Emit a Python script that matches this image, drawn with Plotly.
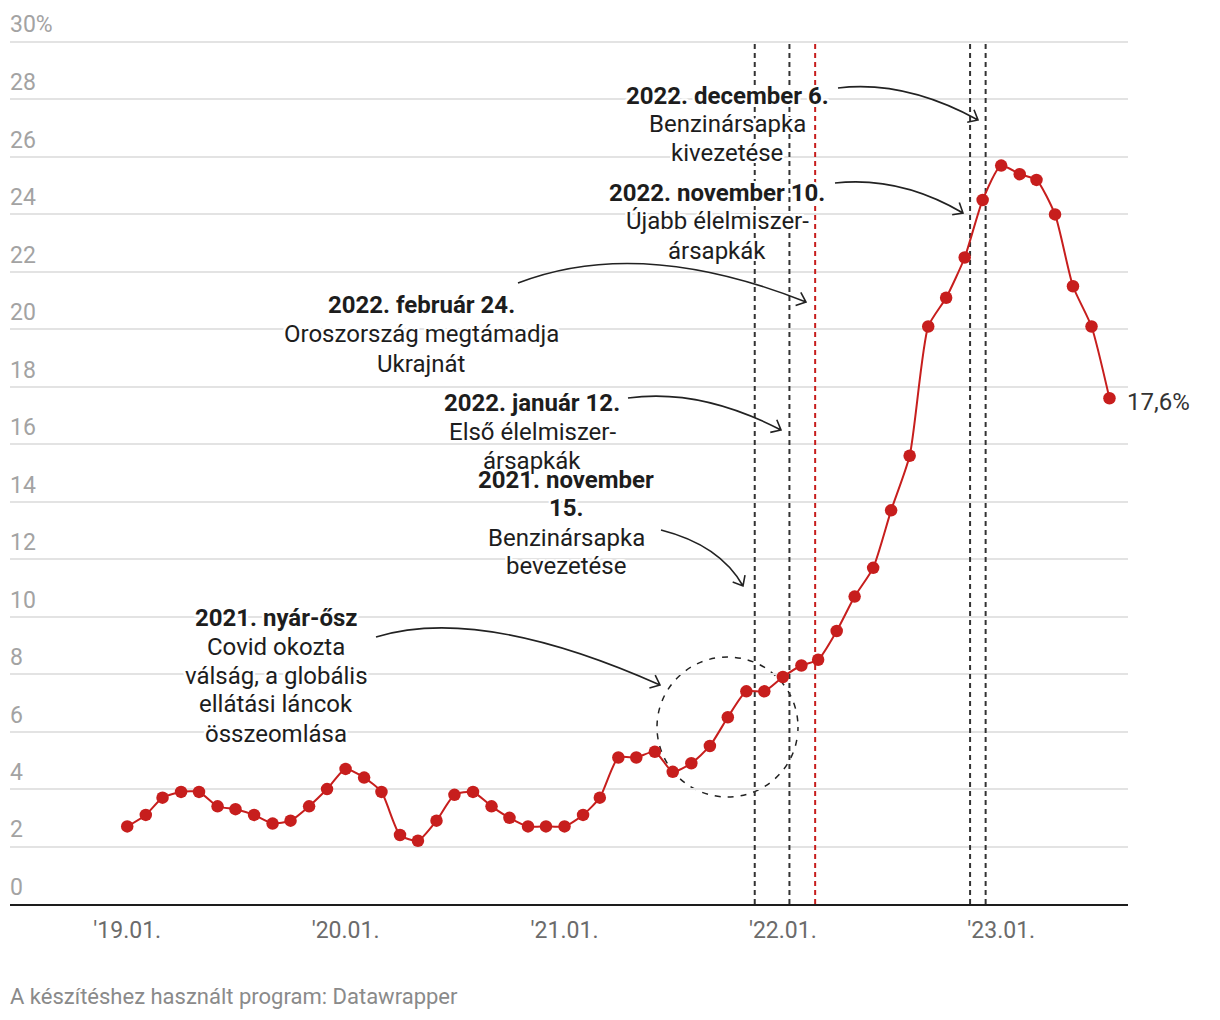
import math
import pandas as pd
import plotly.graph_objects as go

# ---------------- data ----------------
months = pd.date_range("2019-01-01", "2023-07-01", freq="MS").strftime("%Y-%m-%d").tolist()
inflation = [
    2.7, 3.1, 3.7, 3.9, 3.9, 3.4, 3.3, 3.1, 2.8, 2.9, 3.4, 4.0,   # 2019
    4.7, 4.4, 3.9, 2.4, 2.2, 2.9, 3.8, 3.9, 3.4, 3.0, 2.7, 2.7,   # 2020
    2.7, 3.1, 3.7, 5.1, 5.1, 5.3, 4.6, 4.9, 5.5, 6.5, 7.4, 7.4,   # 2021
    7.9, 8.3, 8.5, 9.5, 10.7, 11.7, 13.7, 15.6, 20.1, 21.1, 22.5, 24.5,  # 2022
    25.7, 25.4, 25.2, 24.0, 21.5, 20.1, 17.6,                      # 2023
]
last_label = "17,6%"

event_dates = ["2021-11-15", "2022-01-12", "2022-02-24", "2022-11-10", "2022-12-06"]
event_colors = ["#333333", "#333333", "#c71e1d", "#333333", "#333333"]

x_tickvals = ["2019-01-01", "2020-01-01", "2021-01-01", "2022-01-01", "2023-01-01"]
x_ticktext = ["'19.01.", "'20.01.", "'21.01.", "'22.01.", "'23.01."]
y_tickvals = list(range(0, 31, 2))
y_ticktext = [str(v) for v in y_tickvals[:-1]] + [""]
y_top_label = "30%"

# annotation blocks: (bold lines, normal lines)
event_blocks = [
    (["2022. december 6."], ["Benzinársapka", "kivezetése"]),
    (["2022. november 10."], ["Újabb élelmiszer-", "ársapkák"]),
    (["2022. február 24."], ["Oroszország megtámadja", "Ukrajnát"]),
    (["2022. január 12."], ["Első élelmiszer-", "ársapkák"]),
    (["2021. november", "15."], ["Benzinársapka", "bevezetése"]),
    (["2021. nyár-ősz"], ["Covid okozta", "válság, a globális", "ellátási láncok", "összeomlása"]),
]

footer = "A készítéshez használt program: Datawrapper"

# ---------------- layout geometry (page pixels) ----------------
OFF = 8                      # default body margin of the html page
W, H = 1220 - 2 * OFF, 1020 - 2 * OFF
PL, PR, PT, PB = 10, 1128, 12, 904          # plot area in page pixels
Y0_PX, Y30_PX = 904, 42
Y_TOP = 30 * (PB - PT) / (Y0_PX - Y30_PX)   # value at top of plot area


def fx(px):
    return (px - PL) / (PR - PL)


def fy(py):
    return (PB - py) / (PB - PT)


RED = "#c71e1d"
INK = "#1d1d1d"
FONT = "Roboto"
HALO = ", ".join(f"{dx}px {dy}px 0 #fff" for dx in (-2, -1, 0, 1, 2) for dy in (-2, -1, 0, 1, 2) if dx or dy)

fig = go.Figure()
fig.add_trace(go.Scatter(
    x=months, y=inflation, mode="lines+markers",
    line=dict(color=RED, width=2, shape="spline", smoothing=0.6),
    marker=dict(color=RED, size=12.5),
    hoverinfo="x+y", showlegend=False,
))

shapes = []
for d, c in zip(event_dates, event_colors):
    shapes.append(dict(type="line", xref="x", yref="y", x0=d, x1=d, y0=0, y1=30,
                       line=dict(color=c, width=2, dash="5px,4px"), layer="between"))

# dashed circle around the 2021 summer-autumn period
shapes.append(dict(type="circle", xref="paper", yref="paper", xsizemode="pixel", ysizemode="pixel",
                   xanchor=0, yanchor=0,
                   x0=657 - PL, x1=798 - PL, y0=PB - 797, y1=PB - 657,
                   line=dict(color="#222", width=1.5, dash="6px,7px"), layer="between"))


def arrow(S, C, E, head=11, ang=40):
    s = (S[0] - PL, PB - S[1])
    c = (C[0] - PL, PB - C[1])
    e = (E[0] - PL, PB - E[1])
    dx, dy = e[0] - c[0], e[1] - c[1]
    n = math.hypot(dx, dy)
    bx, by = -dx / n, -dy / n
    arms = []
    for a in (ang, -ang):
        r = math.radians(a)
        arms.append((e[0] + head * (bx * math.cos(r) - by * math.sin(r)),
                     e[1] + head * (bx * math.sin(r) + by * math.cos(r))))
    p = (f"M {s[0]:.1f},{s[1]:.1f} Q {c[0]:.1f},{c[1]:.1f} {e[0]:.1f},{e[1]:.1f} "
         f"M {arms[0][0]:.1f},{arms[0][1]:.1f} L {e[0]:.1f},{e[1]:.1f} L {arms[1][0]:.1f},{arms[1][1]:.1f}")
    return dict(type="path", xref="paper", yref="paper", xsizemode="pixel", ysizemode="pixel",
                xanchor=0, yanchor=0, path=p, line=dict(color="#222", width=1.6), layer="above")


arrows_px = [
    ((838, 88), (905, 80), (978, 120)),
    ((835, 183), (900, 176), (963, 213)),
    ((518, 283), (640, 236), (806, 302)),
    ((628, 398), (700, 388), (781, 430)),
    ((661, 530), (720, 545), (743, 586)),
    ((376, 637), (480, 605), (660, 685)),
]
for S, C, E in arrows_px:
    shapes.append(arrow(S, C, E))

annotations = []
block_pos = [
    (727, [96, 124, 153]),
    (717, [193, 221, 251]),
    (421, [305, 334, 364]),
    (532, [403, 432, 461]),
    (566, [480, 508, 538, 566]),
    (276, [618, 647, 676, 704, 734]),
]
for (bold_lines, lines), (cx, ys) in zip(event_blocks, block_pos):
    all_lines = [f"<b>{t}</b>" for t in bold_lines] + lines
    for txt, ly in zip(all_lines, ys):
        annotations.append(dict(
            xref="paper", yref="paper", x=fx(cx), y=fy(ly), xanchor="center", yanchor="middle",
            text=txt, showarrow=False, align="center",
            font=dict(family=FONT, size=24, color=INK, shadow=HALO),
        ))

# top y-axis label with percent sign
annotations.append(dict(
    xref="paper", yref="y", x=0, y=30, xanchor="left", yanchor="middle",
    yshift=18, xshift=-2, text=y_top_label, showarrow=False,
    font=dict(family=FONT, size=23, color="#a3a3a3"),
))

annotations.append(dict(
    xref="x", yref="y", x=months[-1], y=inflation[-1], xanchor="left", yanchor="middle",
    xshift=16, yshift=-4, text=last_label, showarrow=False,
    font=dict(family=FONT, size=24, color="#333"),
))

annotations.append(dict(
    xref="paper", yref="paper", x=fx(10), y=fy(997), xanchor="left", yanchor="middle",
    xshift=-2, text=footer, showarrow=False, font=dict(family=FONT, size=22, color="#8a8a8a"),
))

fig.update_layout(
    width=W, height=H,
    margin=dict(l=PL - OFF, r=W - (PR - OFF), t=PT - OFF, b=H - (PB - OFF), pad=0),
    paper_bgcolor="white", plot_bgcolor="white",
    font=dict(family=FONT),
    shapes=shapes, annotations=annotations,
    xaxis=dict(
        type="date", range=["2018-06-19", "2023-08-01"],
        tickvals=x_tickvals, ticktext=x_ticktext,
        tickfont=dict(family=FONT, size=23, color="#6b6b6b"),
        showgrid=False, zeroline=False,
        showline=True, linecolor="#1d1d1d", linewidth=2,
        ticks="", ticklabelstandoff=4, automargin=False,
    ),
    yaxis=dict(
        range=[0, Y_TOP], tickvals=y_tickvals, ticktext=y_ticktext,
        tickfont=dict(family=FONT, size=23, color="#a3a3a3"),
        ticklabelposition="inside top", ticklabelshift=-1, ticklabelstandoff=-3,
        showgrid=True, gridcolor="#e3e3e3", gridwidth=1.5,
        zeroline=False, showline=False, ticks="", automargin=False,
    ),
)

fig.write_html("out.html")
